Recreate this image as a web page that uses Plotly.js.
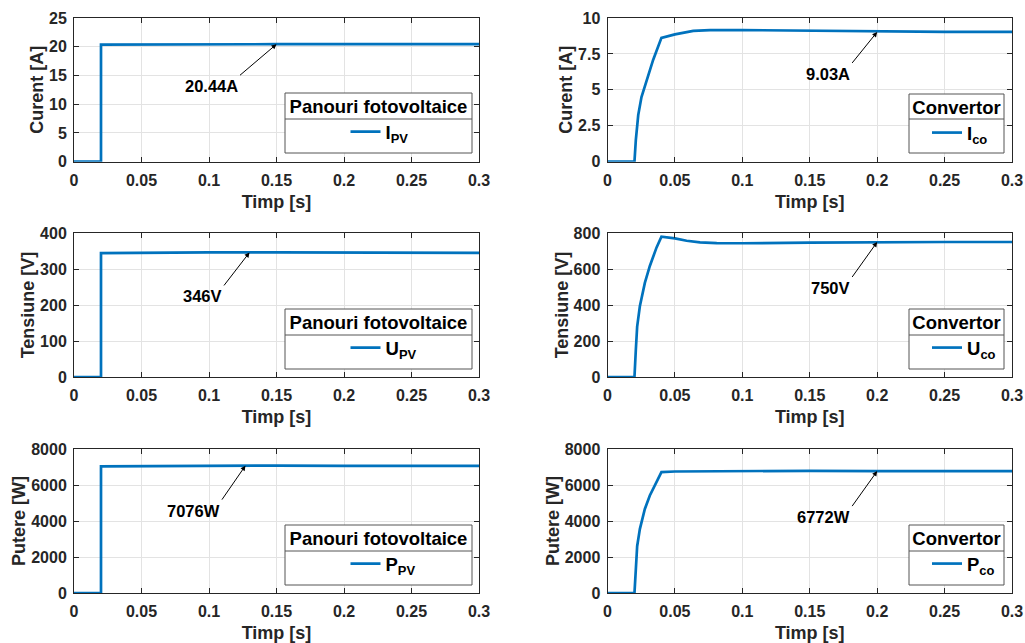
<!DOCTYPE html>
<html>
<head>
<meta charset="utf-8">
<script src="https://cdn.plot.ly/plotly-3.0.1.min.js"></script>
<style>html,body{margin:0;padding:0;background:#fff;}#chart{width:1025px;height:643px;}</style>
</head>
<body>
<div id="chart"></div>
<script>
// ---- Data ----
const timeTicks = [0, 0.05, 0.1, 0.15, 0.2, 0.25, 0.3];

// Panouri fotovoltaice (left column)
const tPV   = [0, 0.02, 0.02, 0.05, 0.10, 0.15, 0.20, 0.25, 0.30];
const iPV   = [0, 0, 20.38, 20.42, 20.43, 20.44, 20.44, 20.44, 20.44];
const uPV   = [0, 0, 344, 345, 346, 346, 345, 345, 345];
const pPV   = [0, 0, 7040, 7055, 7070, 7076, 7060, 7062, 7065];

// Convertor (right column)
const tCoI  = [0, 0.02, 0.021, 0.0228, 0.0252, 0.029, 0.0339, 0.040, 0.05, 0.0636, 0.076, 0.10, 0.15, 0.187, 0.20, 0.25, 0.30];
const iCo   = [0, 0, 1.5, 3.25, 4.5, 5.7, 7.1, 8.62, 8.86, 9.10, 9.15, 9.16, 9.12, 9.05, 9.03, 9.03, 9.03];
const tCoU  = [0, 0.02, 0.021, 0.022, 0.024, 0.0277, 0.0314, 0.0364, 0.040, 0.05, 0.0587, 0.0686, 0.081, 0.10, 0.15, 0.20, 0.25, 0.30];
const uCo   = [0, 0, 150, 280, 393, 523, 617, 720, 780, 770, 757, 748, 744, 743, 746, 750, 750, 750];
const tCoP  = [0, 0.02, 0.021, 0.022, 0.024, 0.0277, 0.0314, 0.0364, 0.040, 0.05, 0.10, 0.15, 0.20, 0.25, 0.30];
const pCo   = [0, 0, 1300, 2600, 3550, 4670, 5420, 6170, 6720, 6750, 6790, 6790, 6772, 6772, 6772];

const yTitles = ["Curent [A]", "Curent [A]", "Tensiune [V]", "Tensiune [V]", "Putere [W]", "Putere [W]"];
const yRanges = [[0, 25], [0, 10], [0, 400], [0, 800], [0, 8000], [0, 8000]];
const yDticks = [5, 2.5, 100, 200, 2000, 2000];
const xTitle = "Timp [s]";
const legendTitles = ["Panouri fotovoltaice", "Convertor", "Panouri fotovoltaice", "Convertor", "Panouri fotovoltaice", "Convertor"];
const seriesNames = ["I<sub>PV</sub>", "I<sub>co</sub>", "U<sub>PV</sub>", "U<sub>co</sub>", "P<sub>PV</sub>", "P<sub>co</sub>"];
// annotation targets (x, y) and labels
const annX = [0.15, 0.2, 0.13, 0.2, 0.127, 0.2];
const annY = [20.44, 9.03, 346, 750, 7076, 6772];
const annText = ["20.44A", "9.03A", "346V", "750V", "7076W", "6772W"];

// ---- Layout geometry (pixels) ----
const W = 1025, H = 643;
const colX = [[74, 479], [607.5, 1012]];
const rowY = [[18, 161.7], [233, 377], [449, 593]];
const FONT = "Liberation Sans, Arial, Helvetica, sans-serif";
const DARK = "#262626";
const BLUE = "#0072BD";

const xs = [tPV, tCoI, tPV, tCoU, tPV, tCoP];
const ys = [iPV, iCo, uPV, uCo, pPV, pCo];

const traces = [];
const layout = {
  width: W, height: H,
  margin: {l: 0, r: 0, t: 0, b: 0},
  paper_bgcolor: "#fff", plot_bgcolor: "#fff",
  font: {family: FONT, color: DARK, size: 16, weight: "bold"},
  showlegend: true,
  annotations: [],
  shapes: []
};

const annOff = [[-36.5, 31], [-25, 31], [-25.5, 33], [-25, 35], [-23.5, 34], [-25, 35]];
// legend frame: left, right, top, separator, bottom
const legBox = [
  [285, 472, 93, 119, 153], [909, 1004, 94, 119, 153],
  [285, 472, 309, 335, 369], [909, 1004, 309, 335, 369],
  [285, 472, 525, 551, 585], [909, 1004, 525, 551, 585]
];

for (let k = 0; k < 6; k++) {
  const r = Math.floor(k / 2), c = k % 2;
  const n = k + 1;
  const xa = "xaxis" + (n === 1 ? "" : n), ya = "yaxis" + (n === 1 ? "" : n);
  const xr = "x" + (n === 1 ? "" : n), yr = "y" + (n === 1 ? "" : n);
  const lg = "legend" + (n === 1 ? "" : n);
  traces.push({
    type: "scatter", mode: "lines",
    x: xs[k], y: ys[k], xaxis: xr, yaxis: yr,
    name: seriesNames[k], legend: lg,
    line: {color: BLUE, width: 2.7}
  });
  const common = {
    showline: true, mirror: "ticks", linecolor: DARK, linewidth: 1,
    ticks: "inside", ticklen: 5, tickcolor: DARK, tickwidth: 1,
    showgrid: true, gridcolor: "#e3e3e3", gridwidth: 1,
    zeroline: false, fixedrange: true,
    tickfont: {family: FONT, size: 16, color: DARK, weight: "bold"}
  };
  layout[xa] = Object.assign({}, common, {
    domain: [colX[c][0] / W, colX[c][1] / W],
    anchor: yr, range: [0, 0.3], tickvals: timeTicks,
    ticktext: timeTicks.map(String),
    ticklabelstandoff: 4,
    title: {text: xTitle, font: {family: FONT, size: 18, color: DARK, weight: "bold"}, standoff: 7}
  });
  layout[ya] = Object.assign({}, common, {
    domain: [1 - rowY[r][1] / H, 1 - rowY[r][0] / H],
    anchor: xr, range: yRanges[k], dtick: yDticks[k], tick0: 0,
    ticklabelstandoff: 3,
    title: {text: yTitles[k], font: {family: FONT, size: 18, color: DARK, weight: "bold"}, standoff: 0}
  });
  const lb = legBox[k];
  // frame of the legend (white box + separator), drawn under the legend text
  layout.shapes.push({
    type: "rect", xref: "paper", yref: "paper", layer: "above",
    x0: lb[0] / W, x1: lb[1] / W, y0: 1 - lb[4] / H, y1: 1 - lb[2] / H,
    fillcolor: "#fff", line: {color: "#555", width: 1}
  });
  layout.shapes.push({
    type: "line", xref: "paper", yref: "paper", layer: "above",
    x0: lb[0] / W, x1: lb[1] / W, y0: 1 - lb[3] / H, y1: 1 - lb[3] / H,
    line: {color: "#555", width: 1}
  });
  layout[lg] = {
    x: (lb[0] + lb[1]) / 2 / W, xanchor: "center", y: 1 - (lb[2] - 4) / H, yanchor: "top",
    bgcolor: "rgba(0,0,0,0)", borderwidth: 0,
    title: {text: legendTitles[k], side: "top center", font: {family: FONT, size: 18.5, color: "#000", weight: "bold"}},
    font: {family: FONT, size: 18.5, color: "#000", weight: "bold"},
    indentation: c === 0 ? 58 : 17,
    tracegroupgap: 0
  };
  layout.annotations.push({
    x: annX[k], y: annY[k], xref: xr, yref: yr,
    text: annText[k], showarrow: true, arrowhead: 2, arrowsize: 1, arrowwidth: 1, arrowcolor: "#000",
    ax: annOff[k][0], ay: annOff[k][1], xanchor: "right", yanchor: "top",
    font: {family: FONT, size: 16.5, color: "#000", weight: "bold"}
  });
}

Plotly.newPlot("chart", traces, layout, {displayModeBar: false, staticPlot: true});
</script>
</body>
</html>
